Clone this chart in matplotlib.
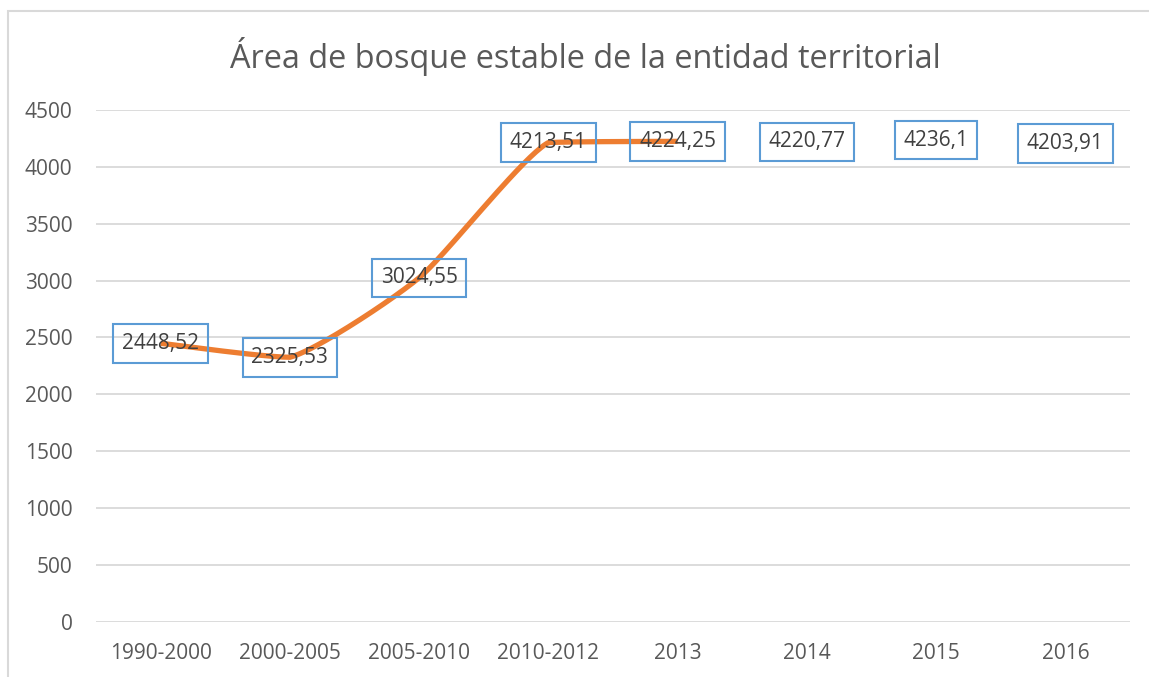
import matplotlib
matplotlib.use("Agg")
import matplotlib.pyplot as plt
import numpy as np
from matplotlib.patches import Rectangle

categories = ["1990-2000", "2000-2005", "2005-2010", "2010-2012", "2013", "2014", "2015", "2016"]
values = [2448.52, 2325.53, 3024.55, 4213.51, 4224.25, 4220.77, 4236.1, 4203.91]
labels = ["2448,52", "2325,53", "3024,55", "4213,51", "4224,25", "4220,77", "4236,1", "4203,91"]
line_count = 5  # the line is drawn through the first five periods only
yticks = [0, 500, 1000, 1500, 2000, 2500, 3000, 3500, 4000, 4500]
title = "Área de bosque estable de la entidad territorial"

plt.rcParams['font.family'] = ['Open Sans', 'DejaVu Sans']

W, H = 1149, 677
fig = plt.figure(figsize=(W / 100, H / 100), dpi=100)
fig.patch.set_facecolor("white")

# chart frame (cropped at right and bottom)
fig.add_artist(Rectangle((8 / W, -0.1), 1.2, 1 - 11 / H + 0.1, transform=fig.transFigure,
                         fill=False, edgecolor="#D9D9D9", linewidth=1.5))

ax = fig.add_axes([96 / W, 1 - 621.7 / H, (1130 - 96) / W, (621.7 - 110) / H])
ax.set_xlim(-0.5, len(categories) - 0.5)
ax.set_ylim(0, 4500)
for s in ax.spines.values():
    s.set_visible(False)
ax.set_yticks(yticks)
ax.set_yticklabels([str(t) for t in yticks])
ax.set_xticks(range(len(categories)))
ax.set_xticklabels(categories)
ax.tick_params(length=0, labelsize=15, labelcolor="#595959")
ax.tick_params(axis="y", pad=17)
ax.tick_params(axis="x", pad=15)
ax.grid(axis="y", color="#D9D9D9", linewidth=1.3)
ax.set_axisbelow(True)

# smoothed line without overshoot
xs = np.arange(line_count, dtype=float)
ys = np.array(values[:line_count], dtype=float)
px, py = [], []
n = line_count
k = 1 / 10
for i in range(n - 1):
    p0 = np.array([xs[max(i - 1, 0)], ys[max(i - 1, 0)]])
    p1 = np.array([xs[i], ys[i]])
    p2 = np.array([xs[i + 1], ys[i + 1]])
    p3 = np.array([xs[min(i + 2, n - 1)], ys[min(i + 2, n - 1)]])
    c1 = p1 + (p2 - p0) * k
    c2 = p2 - (p3 - p1) * k
    lo, hi = min(p1[1], p2[1]), max(p1[1], p2[1])
    c1[1] = np.clip(c1[1], lo, hi)
    c2[1] = np.clip(c2[1], lo, hi)
    t = np.linspace(0, 1, 40)[:, None]
    pts = (1 - t) ** 3 * p1 + 3 * (1 - t) ** 2 * t * c1 + 3 * (1 - t) * t ** 2 * c2 + t ** 3 * p2
    px.extend(pts[:, 0]); py.extend(pts[:, 1])
ax.plot(px, py, color="#ED7D31", linewidth=3.8, solid_capstyle="butt", zorder=2)

for i, (v, lab) in enumerate(zip(values, labels)):
    ax.text(i, v, lab, ha="center", va="center", fontsize=15, color="#404040", zorder=3,
            bbox=dict(boxstyle="square,pad=0.42", facecolor="none", edgecolor="#5B9BD5", linewidth=1.5))

fig.text(585 / W, 1 - 57 / H, title, ha="center", va="center", fontsize=23.4, color="#595959")

fig.savefig("out.png", dpi=100, facecolor="white")
